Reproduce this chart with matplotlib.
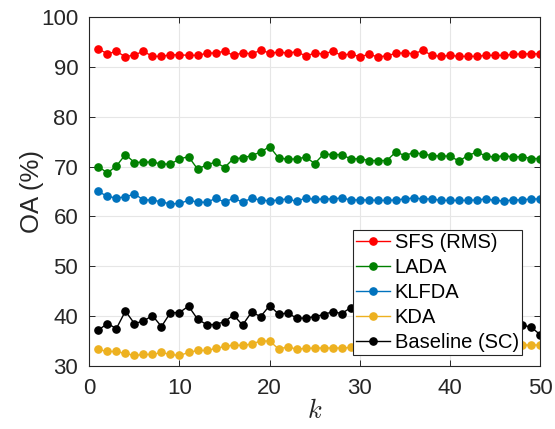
import matplotlib.pyplot as plt

plt.rcParams['font.family'] = ['Liberation Sans', 'DejaVu Sans']
plt.rcParams['mathtext.fontset'] = 'cm'

k = list(range(1, 51))

sfs_rms = [93.6, 92.6, 93.1, 92.0, 92.4, 93.1, 92.1, 92.1, 92.4, 92.4,
           92.3, 92.3, 92.7, 92.8, 93.1, 92.3, 92.8, 92.6, 93.3, 92.8,
           92.9, 92.8, 93.0, 92.2, 92.7, 92.6, 93.1, 92.3, 92.6, 92.0,
           92.5, 92.0, 92.2, 92.7, 92.8, 92.6, 93.3, 92.3, 92.1, 92.3,
           92.1, 92.1, 92.1, 92.3, 92.3, 92.3, 92.5, 92.6, 92.6, 92.6]

lada = [70.0, 68.7, 70.1, 72.4, 70.8, 70.9, 70.9, 70.5, 70.5, 71.5,
        72.0, 69.5, 70.3, 70.9, 69.8, 71.6, 71.7, 72.2, 72.9, 74.0,
        71.7, 71.5, 71.5, 71.9, 70.6, 72.5, 72.4, 72.4, 71.5, 71.6,
        71.2, 71.2, 71.2, 72.9, 72.2, 72.8, 72.5, 72.2, 72.1, 72.1,
        71.1, 72.2, 72.9, 72.1, 71.9, 72.2, 71.9, 72.0, 71.6, 71.6]

klfda = [65.0, 64.0, 63.7, 63.9, 64.5, 63.3, 63.3, 62.9, 62.5, 62.6,
         63.2, 62.9, 62.8, 63.6, 62.9, 63.6, 62.9, 63.6, 63.3, 63.1,
         63.3, 63.5, 63.0, 63.7, 63.4, 63.5, 63.5, 63.7, 63.3, 63.3,
         63.3, 63.2, 63.2, 63.3, 63.5, 63.7, 63.5, 63.5, 63.2, 63.2,
         63.2, 63.2, 63.3, 63.5, 63.2, 63.1, 63.3, 63.3, 63.5, 63.5]

kda = [33.3, 32.9, 32.9, 32.5, 32.1, 32.3, 32.3, 32.7, 32.3, 32.1,
       32.7, 33.1, 33.1, 33.5, 33.9, 34.2, 34.1, 34.4, 35.0, 35.0,
       33.4, 33.8, 33.4, 33.5, 33.6, 33.6, 33.6, 33.6, 33.7, 33.8,
       33.8, 33.9, 33.9, 34.0, 33.9, 34.0, 34.0, 34.1, 34.0, 34.1,
       34.1, 34.0, 34.1, 34.2, 34.1, 34.2, 34.2, 34.2, 34.2, 34.2]

baseline_sc = [37.2, 38.5, 37.5, 41.0, 38.5, 39.0, 40.1, 37.9, 40.7, 40.7,
               42.0, 39.4, 38.3, 38.3, 38.9, 40.2, 38.2, 40.8, 39.9, 42.1,
               40.4, 40.6, 39.6, 39.6, 39.9, 40.3, 40.9, 40.5, 41.7, 41.0,
               40.6, 40.9, 41.2, 40.7, 40.5, 41.0, 40.8, 40.4, 40.9, 40.6,
               40.3, 40.7, 40.2, 39.9, 39.5, 39.2, 38.8, 38.2, 37.8, 36.3]

series_names = ['SFS (RMS)', 'LADA', 'KLFDA', 'KDA', 'Baseline (SC)']
series_colors = ['#FF0000', '#008000', '#0072BD', '#EDB120', '#000000']

fig = plt.figure(figsize=(5.55, 4.29), dpi=100)
ax = fig.add_axes([0.161, 0.147, 0.812, 0.8135])

for vals, name, col in zip([sfs_rms, lada, klfda, kda, baseline_sc],
                           series_names, series_colors):
    ax.plot(k, vals, '-o', color=col, label=name, lw=1.0, ms=5.2)

ax.set_xlim(0, 50)
ax.set_ylim(30, 100)
ax.set_xticks([0, 10, 20, 30, 40, 50])
ax.set_yticks([30, 40, 50, 60, 70, 80, 90, 100])
ax.grid(True, color='#E6E6E6', lw=0.8)
ax.set_axisbelow(True)
ax.tick_params(direction='in', top=True, right=True, labelsize=16,
               colors='#262626', length=4, width=0.7)
ax.tick_params(axis='x', pad=9)
ax.tick_params(axis='y', pad=8)
for s in ax.spines.values():
    s.set_color('#262626')
    s.set_linewidth(0.8)

ax.set_xlabel('$k$', fontsize=19, color='#262626', labelpad=0)
ax.set_ylabel('OA (%)', fontsize=18.5, color='#262626', labelpad=-2)

leg = ax.legend(loc='lower left', bbox_to_anchor=(0.584, 0.031),
                borderaxespad=0, fontsize=14.5, handlelength=1.7,
                handletextpad=0.25, labelspacing=0.3, borderpad=0.15,
                fancybox=False, framealpha=1, edgecolor='#262626')
leg.get_frame().set_linewidth(0.8)

fig.savefig('out.png', dpi=100)
